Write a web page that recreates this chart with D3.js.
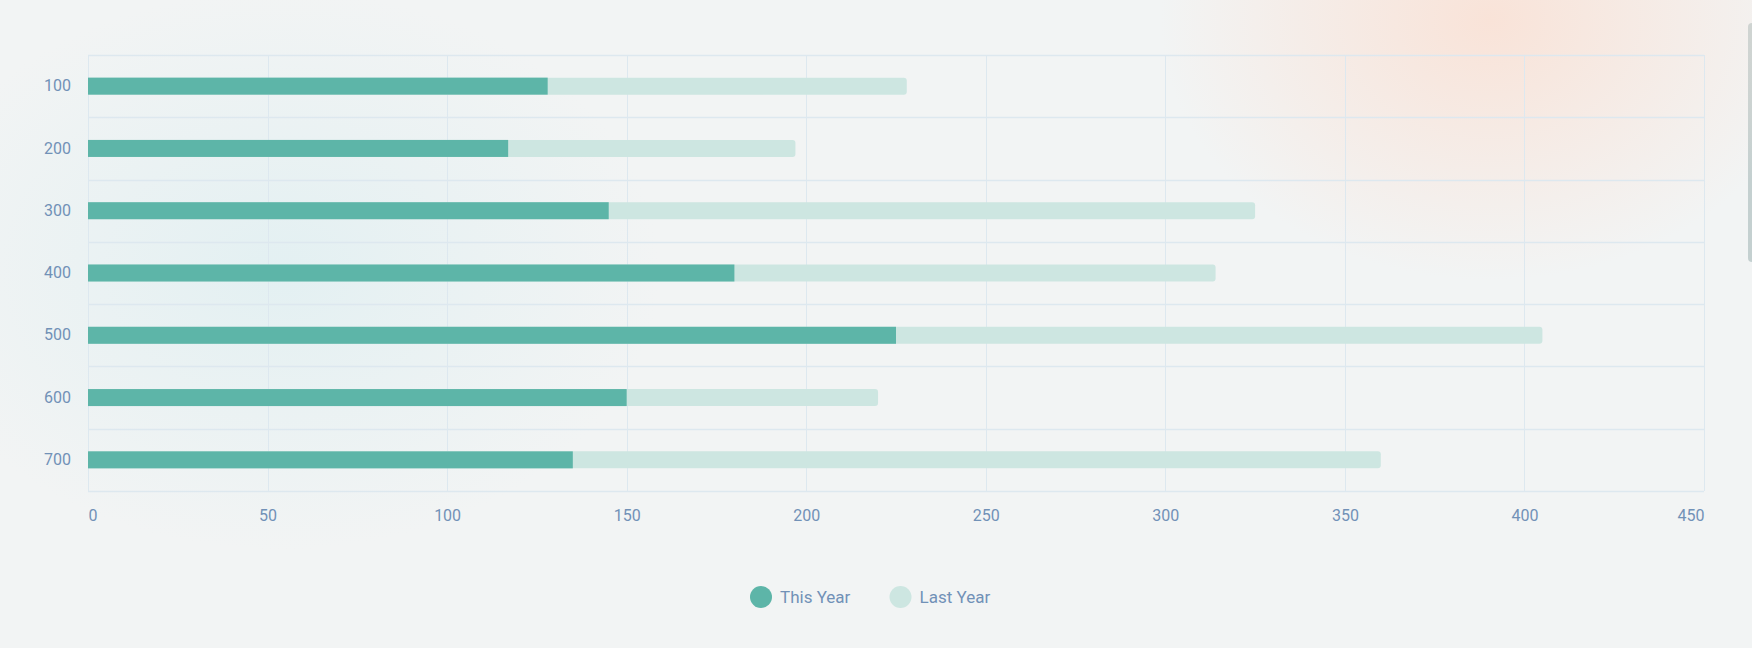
<!DOCTYPE html>
<html>
<head>
<meta charset="utf-8">
<script src="https://cdn.jsdelivr.net/npm/d3@7"></script>
<style>
  html, body { margin: 0; padding: 0; }
  body {
    width: 1752px; height: 648px; overflow: hidden;
    font-family: Roboto, "Noto Sans", sans-serif;
    background: #f2f4f4;
  }
  #chart { position: relative; width: 1752px; height: 648px; }
  .thumb {
    position: absolute; left: 1748px; top: 23px; width: 8px; height: 239px;
    border-radius: 4px; background: #c4d0d0;
  }
</style>
</head>
<body>
<div id="chart"><div class="thumb"></div></div>
<script>
const categories = ["100", "200", "300", "400", "500", "600", "700"];
const thisYear = [128, 117, 145, 180, 225, 150, 135];
const lastYear = [228, 197, 325, 314, 405, 220, 360];
const xTicks = [0, 50, 100, 150, 200, 250, 300, 350, 400, 450];
const seriesNames = ["This Year", "Last Year"];

const W = 1752, H = 648;
const margin = {top: 55, right: 48, bottom: 157, left: 88};
const w = W - margin.left - margin.right;
const h = H - margin.top - margin.bottom;
const colors = {thisYear: "#5db5a8", lastYear: "#cde6e1", text: "#7191b7", grid: "#dde8ef"};

const svg = d3.select("#chart").append("svg")
  .attr("width", W).attr("height", H)
  .style("position", "absolute").style("left", 0).style("top", 0);

// background tints
const defs = svg.append("defs");
const peach = defs.append("radialGradient").attr("id", "peach")
  .attr("cx", 0.5).attr("cy", 0.5).attr("r", 0.5);
peach.append("stop").attr("offset", "0%").attr("stop-color", "#f9e3d8").attr("stop-opacity", 1);
peach.append("stop").attr("offset", "100%").attr("stop-color", "#f9e3d8").attr("stop-opacity", 0);
const blue = defs.append("radialGradient").attr("id", "blue")
  .attr("cx", 0.5).attr("cy", 0.5).attr("r", 0.5);
blue.append("stop").attr("offset", "0%").attr("stop-color", "#e3f0f2").attr("stop-opacity", 1);
blue.append("stop").attr("offset", "100%").attr("stop-color", "#e3f0f2").attr("stop-opacity", 0);
svg.append("ellipse").attr("cx", 1490).attr("cy", 20).attr("rx", 330).attr("ry", 260).attr("fill", "url(#peach)");
svg.append("ellipse").attr("cx", 280).attr("cy", 270).attr("rx", 380).attr("ry", 280).attr("fill", "url(#blue)");

const g = svg.append("g").attr("transform", `translate(${margin.left},${margin.top})`);

const x = d3.scaleLinear().domain([0, 450]).range([0, w]);
const y = d3.scaleBand().domain(categories).range([0, h]);
const barH = 17;

// grid
g.append("g").selectAll("line").data(xTicks).join("line")
  .attr("x1", d => Math.round(x(d)) + 0.5).attr("x2", d => Math.round(x(d)) + 0.5)
  .attr("y1", 0).attr("y2", h)
  .attr("stroke", colors.grid).attr("stroke-width", 1);
g.append("g").selectAll("line").data(d3.range(categories.length + 1)).join("line")
  .attr("x1", 0).attr("x2", w)
  .attr("y1", i => Math.round(i * y.step()) + 0.5).attr("y2", i => Math.round(i * y.step()) + 0.5)
  .attr("stroke", colors.grid).attr("stroke-width", 1.5);

// last year bars (behind, rounded right end)
const r = 3;
g.append("g").selectAll("path").data(lastYear).join("path")
  .attr("d", (d, i) => {
    const y0 = y(categories[i]) + (y.bandwidth() - barH) / 2, x1 = x(d);
    return `M0,${y0}H${x1 - r}Q${x1},${y0} ${x1},${y0 + r}V${y0 + barH - r}Q${x1},${y0 + barH} ${x1 - r},${y0 + barH}H0Z`;
  })
  .attr("fill", colors.lastYear);

// this year bars
g.append("g").selectAll("rect").data(thisYear).join("rect")
  .attr("x", 0)
  .attr("y", (d, i) => y(categories[i]) + (y.bandwidth() - barH) / 2)
  .attr("width", d => x(d))
  .attr("height", barH)
  .attr("fill", colors.thisYear);

// y axis labels
const yAxis = g.append("g").call(d3.axisLeft(y).tickSize(0).tickPadding(17));
yAxis.select(".domain").remove();
yAxis.selectAll("text").attr("fill", colors.text).style("font-size", "16px").style("font-family", "Roboto");

// x axis labels
const xAxis = g.append("g").attr("transform", `translate(0,${h})`)
  .call(d3.axisBottom(x).tickValues(xTicks).tickSize(0).tickPadding(19));
xAxis.select(".domain").remove();
xAxis.selectAll("text").attr("fill", colors.text).style("font-size", "16px").style("font-family", "Roboto")
  .attr("text-anchor", d => d === 0 ? "start" : d === 450 ? "end" : "middle");

// legend
const legend = svg.append("g").attr("transform", "translate(761,597)");
const items = [{name: seriesNames[0], color: colors.thisYear, x: 0}, {name: seriesNames[1], color: colors.lastYear, x: 139.5}];
const li = legend.selectAll("g").data(items).join("g").attr("transform", d => `translate(${d.x},0)`);
li.append("circle").attr("r", 11).attr("fill", d => d.color);
li.append("text").attr("x", 19).attr("dy", "0.35em").text(d => d.name)
  .attr("fill", colors.text).style("font-size", "17px").style("font-family", "Roboto");
</script>
</body>
</html>
